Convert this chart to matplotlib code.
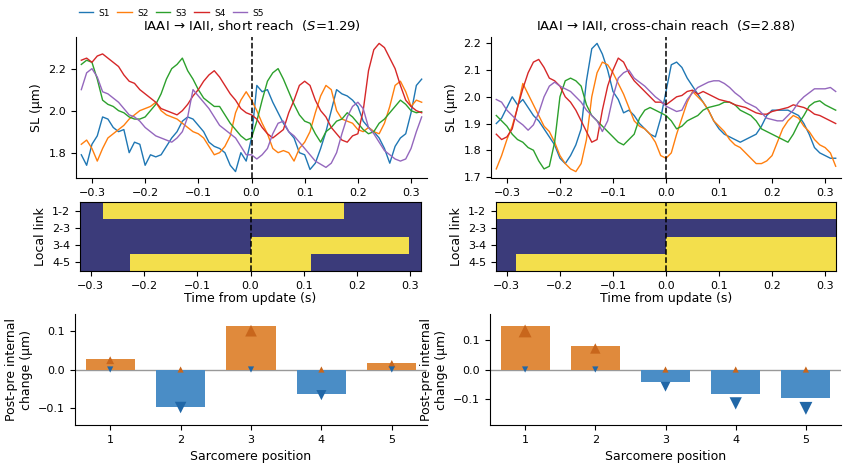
import numpy as np
import matplotlib
matplotlib.use("Agg")
import matplotlib.pyplot as plt
from matplotlib.colors import ListedColormap

# ── time axis of the SL traces (s) ───────────────────────────────────────────
T = np.linspace(-0.32, 0.32, 65)

# ── left: IAAI -> IAII, short reach ──────────────────────────────────────────
L_S1 = [1.79, 1.74, 1.84, 1.88, 1.97, 1.96, 1.92, 1.90, 1.91, 1.80, 1.85, 1.84, 1.74,
        1.79, 1.78, 1.79, 1.83, 1.87, 1.90, 1.95, 1.97, 1.96, 1.93, 1.90, 1.85, 1.83,
        1.82, 1.80, 1.74, 1.71, 1.80, 1.76, 1.87,
        2.12, 2.09, 2.10, 2.04, 1.99, 1.94, 1.90, 1.87, 1.80, 1.79, 1.72, 1.75, 1.82,
        1.90, 2.00, 2.10, 2.08, 2.07, 2.05, 2.02, 1.95, 1.92, 1.90, 1.87, 1.82, 1.75,
        1.83, 1.87, 1.89, 1.99, 2.12, 2.15]
L_S2 = [1.84, 1.86, 1.82, 1.76, 1.82, 1.87, 1.89, 1.91, 1.93, 1.96, 1.98, 2.00, 2.01,
        2.02, 2.04, 2.00, 1.98, 1.97, 1.96, 1.94, 1.92, 1.90, 1.89, 1.87, 1.83, 1.79,
        1.80, 1.83, 1.88, 1.99, 2.05, 2.09, 2.05,
        2.00, 1.94, 1.89, 1.82, 1.80, 1.81, 1.80, 1.76, 1.82, 1.85, 1.90, 1.99, 2.07,
        2.12, 2.10, 2.00, 1.96, 1.95, 1.94, 1.91, 1.90, 1.92, 1.90, 1.89, 1.94, 2.02,
        2.12, 2.14, 2.09, 2.02, 2.05, 2.04]
L_S3 = [2.22, 2.24, 2.23, 2.15, 2.05, 2.03, 2.02, 2.00, 1.99, 1.97, 1.96, 1.96, 1.97,
        2.00, 2.03, 2.08, 2.15, 2.20, 2.22, 2.25, 2.19, 2.15, 2.10, 2.06, 2.04, 2.02,
        2.02, 1.98, 1.94, 1.91, 1.88, 1.86, 1.87,
        1.95, 2.05, 2.14, 2.18, 2.20, 2.15, 2.09, 2.03, 1.98, 1.95, 1.94, 1.89, 1.85,
        1.90, 1.92, 1.95, 1.96, 1.99, 1.97, 1.94, 1.91, 1.89, 1.90, 1.94, 1.96, 1.99,
        2.02, 2.05, 2.03, 2.00, 1.99, 1.995]
L_S4 = [2.24, 2.25, 2.23, 2.26, 2.27, 2.25, 2.23, 2.21, 2.17, 2.14, 2.13, 2.10, 2.08,
        2.06, 2.04, 2.01, 2.00, 1.99, 1.98, 2.00, 2.03, 2.07, 2.10, 2.14, 2.17, 2.19,
        2.16, 2.12, 2.08, 2.05, 2.01, 1.99, 1.98,
        1.96, 1.92, 1.89, 1.87, 1.89, 1.91, 1.99, 2.05, 2.12, 2.14, 2.12, 2.05, 2.00,
        1.97, 1.92, 1.89, 1.86, 1.85, 1.88, 1.89, 2.00, 2.19, 2.29, 2.32, 2.30, 2.25,
        2.20, 2.12, 2.05, 2.02, 2.00, 1.99]
L_S5 = [2.10, 2.18, 2.20, 2.16, 2.09, 2.08, 2.06, 2.04, 2.01, 1.98, 1.97, 1.95, 1.92,
        1.90, 1.88, 1.87, 1.86, 1.85, 1.87, 1.90, 1.97, 2.10, 2.07, 2.04, 2.01, 1.97,
        1.93, 1.91, 1.89, 1.87, 1.83, 1.79, 1.79,
        1.77, 1.79, 1.82, 1.89, 1.94, 1.95, 1.90, 1.88, 1.85, 1.82, 1.79, 1.76, 1.745,
        1.73, 1.75, 1.80, 1.89, 1.97, 2.02, 2.04, 2.01, 1.92, 1.89, 1.85, 1.81, 1.79,
        1.77, 1.76, 1.77, 1.82, 1.90, 1.97]

# ── right: IAAI -> IAII, cross-chain reach ───────────────────────────────────
R_S1 = [1.90, 1.92, 1.96, 2.00, 1.97, 1.99, 1.96, 1.93, 1.91, 1.88, 1.85, 1.82, 1.77,
        1.75, 1.78, 1.82, 1.88, 2.06, 2.18, 2.20, 2.16, 2.10, 2.02, 1.99, 1.94, 1.95,
        1.93, 1.90, 1.88, 1.86, 1.85, 1.92, 2.02,
        2.12, 2.13, 2.11, 2.07, 2.04, 2.01, 1.98, 1.95, 1.91, 1.88, 1.86, 1.85, 1.84,
        1.83, 1.84, 1.85, 1.86, 1.89, 1.93, 1.95, 1.95, 1.95, 1.95, 1.94, 1.93, 1.90,
        1.86, 1.81, 1.79, 1.78, 1.77, 1.77]
R_S2 = [1.73, 1.78, 1.84, 1.89, 1.96, 2.05, 2.01, 1.97, 1.93, 1.89, 1.87, 1.83, 1.78,
        1.75, 1.73, 1.72, 1.75, 1.84, 2.00, 2.09, 2.13, 2.12, 2.09, 2.05, 2.01, 1.96,
        1.91, 1.89, 1.88, 1.86, 1.83, 1.78, 1.77,
        1.79, 1.86, 1.92, 1.98, 2.02, 2.00, 1.98, 1.95, 1.91, 1.89, 1.87, 1.84, 1.82,
        1.81, 1.79, 1.77, 1.75, 1.75, 1.76, 1.78, 1.83, 1.88, 1.91, 1.93, 1.92, 1.89,
        1.87, 1.84, 1.82, 1.81, 1.79, 1.74]
R_S3 = [1.93, 1.91, 1.89, 1.86, 1.84, 1.83, 1.81, 1.80, 1.76, 1.73, 1.74, 1.83, 2.00,
        2.06, 2.07, 2.06, 2.04, 1.97, 1.93, 1.91, 1.89, 1.87, 1.85, 1.83, 1.82, 1.84,
        1.86, 1.92, 1.95, 1.96, 1.95, 1.94, 1.93,
        1.91, 1.88, 1.89, 1.91, 1.92, 1.93, 1.95, 1.96, 1.965, 1.97, 1.98, 1.98, 1.97,
        1.95, 1.94, 1.93, 1.91, 1.88, 1.87, 1.86, 1.85, 1.84, 1.83, 1.86, 1.90, 1.93,
        1.965, 1.98, 1.985, 1.97, 1.96, 1.95]
R_S4 = [1.86, 1.84, 1.85, 1.88, 1.96, 2.03, 2.09, 2.13, 2.14, 2.11, 2.07, 2.06, 2.04,
        2.00, 1.98, 1.95, 1.91, 1.87, 1.83, 1.84, 1.95, 2.04, 2.10, 2.145, 2.13, 2.09,
        2.06, 2.04, 2.02, 2.00, 1.98, 1.98, 1.97,
        1.985, 2.00, 2.005, 2.02, 2.025, 2.01, 2.02, 2.01, 2.00, 1.99, 1.985, 1.98, 1.97,
        1.965, 1.96, 1.95, 1.94, 1.935, 1.935, 1.945, 1.95, 1.955, 1.96, 1.97, 1.965,
        1.96, 1.95, 1.935, 1.93, 1.92, 1.91, 1.90]
R_S5 = [1.99, 1.98, 1.95, 1.93, 1.91, 1.895, 1.875, 1.895, 1.94, 2.00, 2.04, 2.055,
        2.04, 2.03, 2.02, 2.00, 1.98, 1.95, 1.93, 1.91, 1.87, 1.91, 2.00, 2.07, 2.09,
        2.10, 2.07, 2.055, 2.04, 2.02, 2.00, 1.985, 1.965,
        1.955, 1.945, 1.95, 1.99, 2.015, 2.035, 2.045, 2.055, 2.06, 2.06, 2.05, 2.035,
        2.015, 2.00, 1.98, 1.97, 1.96, 1.94, 1.92, 1.915, 1.91, 1.91, 1.93, 1.95, 1.98,
        2.00, 2.015, 2.03, 2.03, 2.03, 2.035, 2.02]

LINKS = ["1-2", "2-3", "3-4", "4-5"]
# link state changes: edges (s) and state per interval (1 = engaged)
L_EDGES = [-0.32, -0.277, -0.227, 0.0, 0.114, 0.175, 0.297, 0.32]
L_STATE = [[0, 1, 1, 1, 1, 0, 0],
           [0, 0, 0, 0, 0, 0, 0],
           [0, 0, 0, 1, 1, 1, 0],
           [0, 0, 1, 1, 0, 0, 0]]
R_EDGES = [-0.32, -0.282, 0.0, 0.32]
R_STATE = [[1, 1, 1],
           [0, 0, 0],
           [0, 0, 1],
           [0, 1, 1]]

POS = [1, 2, 3, 4, 5]
L_BAR = [0.026, -0.096, 0.112, -0.062, 0.017]
L_UP = [0.024, 0.0, 0.100, 0.0, 0.015]
L_DOWN = [0.0, -0.098, 0.0, -0.066, 0.0]
R_BAR = [0.150, 0.080, -0.043, -0.085, -0.098]
R_UP = [0.132, 0.072, 0.0, 0.0, 0.0]
R_DOWN = [0.0, 0.0, -0.059, -0.116, -0.133]

COLS = ["#1f77b4", "#ff7f0e", "#2ca02c", "#d62728", "#9467bd"]
cmap = ListedColormap(["#3b3b7a", "#f3df4c"])

plt.rcParams["font.size"] = 8

fig = plt.figure(figsize=(8.5, 4.66), dpi=100)
W, H = 850.0, 466.0


def ax_at(x0, y0, x1, y1):
    return fig.add_axes([x0 / W, 1 - y1 / H, (x1 - x0) / W, (y1 - y0) / H])


panels = [
    dict(x=(76, 427), xh=(80, 421), traces=[L_S1, L_S2, L_S3, L_S4, L_S5],
         title=r"IAAI → IAII, short reach  ($S$=1.29)", edges=L_EDGES, state=L_STATE,
         bar=L_BAR, up=L_UP, down=L_DOWN, ylim=(-0.143, 0.143)),
    dict(x=(491, 841), xh=(496, 836), traces=[R_S1, R_S2, R_S3, R_S4, R_S5],
         title=r"IAAI → IAII, cross-chain reach  ($S$=2.88)", edges=R_EDGES, state=R_STATE,
         bar=R_BAR, up=R_UP, down=R_DOWN, ylim=(-0.19, 0.19)),
]

for k, p in enumerate(panels):
    # ── SL traces ──
    ax = ax_at(p["x"][0], 37, p["x"][1], 178)
    for i, tr in enumerate(p["traces"]):
        ax.plot(T, tr, color=COLS[i], lw=1.0, label=f"S{i + 1}")
    ax.axvline(0, color="k", ls="--", lw=1.1)
    ax.set_xlim(-0.33, 0.33)
    ax.set_xticks([-0.3, -0.2, -0.1, 0.0, 0.1, 0.2, 0.3])
    if k == 0:
        ax.set_yticks([1.8, 2.0, 2.2])
    else:
        ax.set_yticks([1.7, 1.8, 1.9, 2.0, 2.1, 2.2])
    ax.set_ylabel("SL (µm)", fontsize=9)
    ax.set_title(p["title"], fontsize=9.5, pad=5)
    ax.spines[["top", "right"]].set_visible(False)
    if k == 0:
        fig.legend(loc="center left", bbox_to_anchor=(75 / W, 1 - 13 / H), ncol=5,
                   frameon=False, fontsize=6.5, handlelength=1.6, columnspacing=0.8,
                   handletextpad=0.6, borderaxespad=0)

    # ── local link states ──
    axh = ax_at(p["xh"][0], 202, p["xh"][1], 271)
    axh.pcolormesh(p["edges"], np.arange(5), np.array(p["state"]), cmap=cmap,
                   vmin=0, vmax=1, edgecolors="face", linewidth=0.4)
    axh.axvline(0, color="k", ls="--", lw=1.1)
    axh.set_xlim(-0.32, 0.32)
    axh.set_ylim(4, 0)
    axh.set_yticks([0.5, 1.5, 2.5, 3.5])
    axh.set_yticklabels(LINKS)
    axh.set_xticks([-0.3, -0.2, -0.1, 0.0, 0.1, 0.2, 0.3])
    axh.set_ylabel("Local link", fontsize=9)
    axh.set_xlabel("Time from update (s)", fontsize=9, labelpad=1)

    # ── post-pre change ──
    axb = ax_at(p["x"][0] - 1, 314, p["x"][1], 425)
    bar_cols = ["#e08a3c" if v > 0 else "#4a8dc6" for v in p["bar"]]
    axb.bar(POS, p["bar"], width=0.7, color=bar_cols, zorder=2)
    axb.axhline(0, color="#999999", lw=1.0, zorder=1)
    axb.scatter(POS, p["up"], marker="^", color="#c8661c",
                s=[20 + 500 * abs(v) for v in p["up"]], zorder=3, linewidths=0)
    axb.scatter(POS, p["down"], marker="v", color="#2167a7",
                s=[20 + 500 * abs(v) for v in p["down"]], zorder=3, linewidths=0)
    axb.set_xlim(0.5, 5.5)
    axb.set_ylim(*p["ylim"])
    axb.set_xticks(POS)
    axb.set_yticks([-0.1, 0.0, 0.1])
    axb.set_xlabel("Sarcomere position", fontsize=9)
    axb.set_ylabel("Post-pre internal\nchange (µm)", fontsize=9)
    axb.spines[["top", "right"]].set_visible(False)

fig.savefig("out.png", dpi=100)
